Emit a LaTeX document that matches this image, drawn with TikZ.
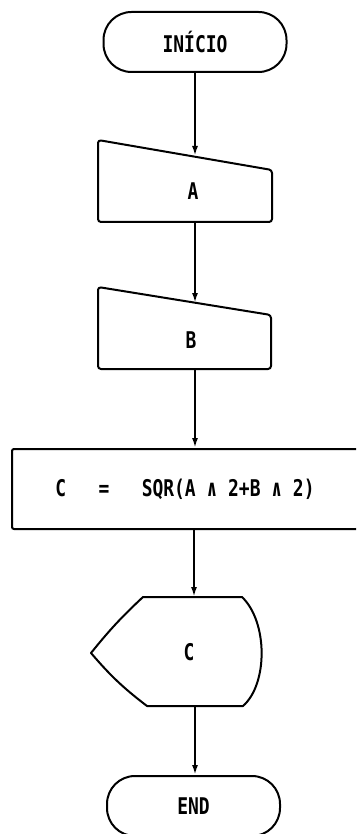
\documentclass[tikz,border=0pt]{standalone}
\usepackage{fontspec}
\usepackage{tikz}
\usetikzlibrary{arrows.meta,positioning,shapes.geometric}
\newfontfamily\flowfont{DejaVu Sans Mono}[FakeStretch=0.78]

\begin{document}
\begin{tikzpicture}[
  x=1pt,y=-1pt,
  term/.style={draw,rectangle,rounded corners=28pt,minimum width=183pt,minimum height=60pt,line width=2pt},
  proc/.style={draw,rectangle,rounded corners=2pt,minimum width=346pt,minimum height=80pt,line width=2pt},
  txt/.style={inner sep=0pt,font=\flowfont\bfseries\fontsize{23}{26}\selectfont},
  shp/.style={draw,line width=2pt,line join=round},
  arr/.style={-{Latex[length=10pt,width=6pt]},line width=2pt}
]
\clip (0,0) rectangle (356,834);
\fill[white] (0,0) rectangle (356,834);

\node[term,txt,inner sep=0pt] (start) at (195,42) {INÍCIO};

% read A
\draw[shp,rounded corners=3pt] (98,140) -- (272,170) -- (272,222) -- (98,222) -- cycle;
\node[txt] (A) at (193,191) {A};
\coordinate (Atop) at (195,156);
\coordinate (Abot) at (195,222);

% read B
\draw[shp,rounded corners=3pt] (98,287) -- (271,315) -- (271,369) -- (98,369) -- cycle;
\node[txt] (B) at (191,340) {B};
\coordinate (Btop) at (195,303);
\coordinate (Bbot) at (195,369);

\node[proc,txt,inner sep=0pt] (calc) at (185,489) {C~~~=~~~SQR(A~∧~2+B~∧~2)};

% display C
\draw[shp] (143,597) -- (242,597) .. controls (268,622) and (268,684) .. (243,706)
  -- (147,706) to[bend left=6] (91,653) to[bend left=4] cycle;
\node[txt] (C) at (189,652) {C};
\coordinate (Ctop) at (194,597);
\coordinate (Cbot) at (195,706);

\node[term,txt,inner sep=0pt,minimum width=173pt] (stop) at (193.5,806) {END};

\draw[arr] (start.south) -- (Atop);
\draw[arr] (Abot) -- (Btop);
\draw[arr] (Bbot) -- (calc.north -| Bbot);
\draw[arr] (calc.south -| Ctop) -- (Ctop);
\draw[arr] (Cbot) -- (stop.north -| Cbot);

\end{tikzpicture}
\end{document}
